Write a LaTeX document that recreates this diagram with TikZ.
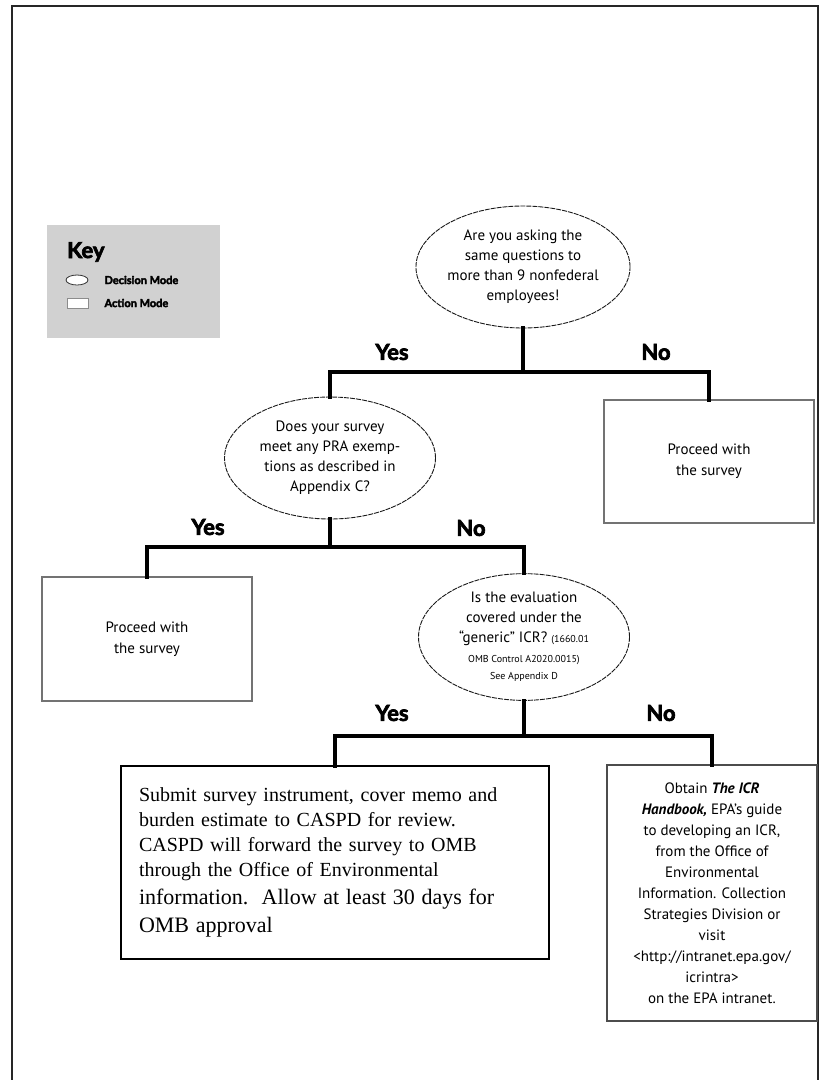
\documentclass[tikz,border=0pt]{standalone}
\usepackage{fontspec}
\setmainfont{PT Sans}
\newfontfamily\heavyfont{Lato}[BoldFeatures={FakeBold=3}]
\newfontfamily\tnr{Liberation Serif}
\usetikzlibrary{shapes.geometric}
\begin{document}
\begin{tikzpicture}[x=1pt,y=-1pt,
  dec/.style={ellipse,draw=black!90,line width=0.9pt,dash pattern=on 5pt off 1pt,
    minimum width=211pt,minimum height=122pt,inner sep=0pt,align=center,
    font=\fontsize{15}{20}\selectfont},
  act/.style={rectangle,draw=black!55,line width=1.2pt,inner sep=0pt,align=center,
    font=\fontsize{15}{21}\selectfont},
  conn/.style={line width=4.5pt,line join=miter,line cap=rect},
  lbl/.style={font=\heavyfont\bfseries\fontsize{22}{24}\selectfont},
  keytxt/.style={font=\heavyfont\bfseries\fontsize{11}{13}\selectfont,anchor=west}]
\useasboundingbox (0,0) rectangle (821,1080);
\fill[white] (0,0) rectangle (821,1080);
% frame
\draw[line width=1.3pt,black!85] (12,1080) -- (12,6) -- (818,6) -- (818,1080);
% key
\node[fill=black!18,minimum width=173pt,minimum height=113pt,inner sep=0pt] (keybox) at (133.5,281.5) {};
\node[font=\heavyfont\bfseries\fontsize{22}{24}\selectfont,anchor=base west,inner sep=0pt] (keyt) at (67,258) {Key};
\node[ellipse,draw=black!80,fill=white,line width=0.8pt,minimum width=22pt,minimum height=10pt,inner sep=0pt] (kell) at (77,280) {};
\node[rectangle,draw=black!45,fill=white,line width=0.8pt,minimum width=21pt,minimum height=10pt,inner sep=0pt] (krect) at (77.5,303) {};
\node[keytxt] (kdec) at (101,280) {Decision Mode};
\node[keytxt] (kact) at (101,303) {Action Mode};
% decisions
\node[dec] (e1) at (523,267) {Are you asking the\\same questions to\\more than 9 nonfederal\\employees!};
\node[dec] (e2) at (330,458) {Does your survey\\meet any PRA exemp-\\tions as described in\\Appendix C?};
\node[dec] (e3) at (524,637) {Is the evaluation\\covered under the\\``generic'' ICR? {\fontsize{10}{12}\selectfont (1660.01}\\{\fontsize{10}{12}\selectfont OMB Control A2020.0015)}\\[-3pt]{\fontsize{10}{12}\selectfont See Appendix D}};
% actions
\node[act,minimum width=210pt,minimum height=123pt] (a1) at (709,461.5) {Proceed with\\the survey};
\node[act,minimum width=210pt,minimum height=124pt] (a2) at (147,639) {Proceed with\\the survey};
\node[rectangle,draw=black,line width=1.5pt,inner sep=0pt,minimum width=428pt,minimum height=193pt,
  text width=392pt,align=left,font=\tnr\fontsize{20}{25}\selectfont] (a3) at (335,862.5)
  {Submit survey instrument, cover memo and\\burden estimate to CASPD for review.\\CASPD will forward the survey to OMB\\through the Office of Environmental\\[3pt]{\fontsize{22}{29}\selectfont information.\ \ Allow at least 30 days for}\\[3pt]{\fontsize{22}{29}\selectfont OMB approval}};
\node[act,draw=black!70,minimum width=210pt,minimum height=256pt] (a4) at (712,893)
  {Obtain {\bfseries\itshape The ICR}\\{\bfseries\itshape Handbook,} EPA's guide\\to developing an ICR,\\from the Office of\\Environmental\\Information. Collection\\Strategies Division or\\visit\\<http://intranet.epa.gov/\\icrintra>\\on the EPA intranet.};
% junctions
\coordinate (j1) at (523,372);
\coordinate (j2) at (330,547);
\coordinate (j3) at (524,736);
\draw[conn] (e1.south) -- (j1);
\draw[conn] (e2.north) |- (j1) -| (a1.north);
\draw[conn] (e2.south) -- (j2);
\draw[conn] (a2.north) |- (j2) -| (e3.north);
\draw[conn] (e3.south) -- (j3);
\draw[conn] (a3.north) |- (j3) -| (a4.north);
% labels
\node[lbl] (y1) at (392,352) {Yes};
\node[lbl] (n1) at (656,352) {No};
\node[lbl] (y2) at (208,527) {Yes};
\node[lbl] (n2) at (471,528) {No};
\node[lbl] (y3) at (392,713) {Yes};
\node[lbl] (n3) at (661,713) {No};
\end{tikzpicture}
\end{document}
